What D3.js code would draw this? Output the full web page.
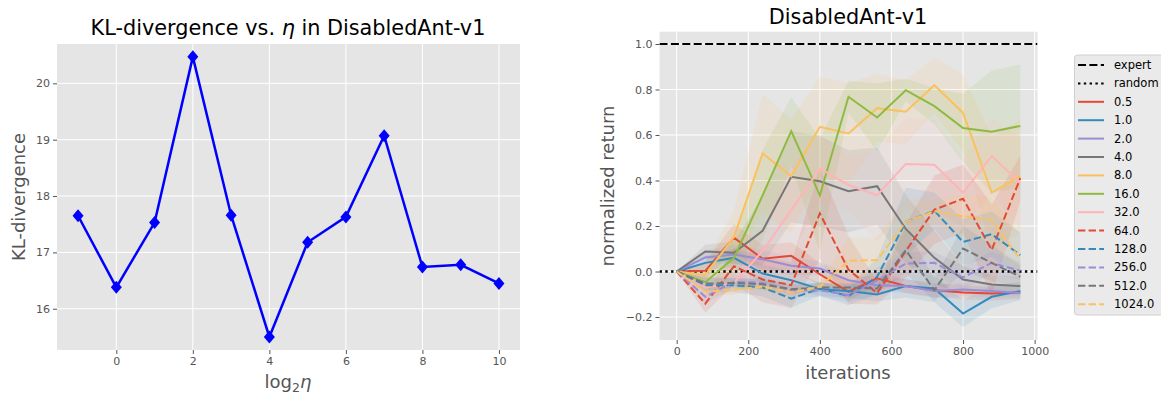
<!DOCTYPE html>
<html><head><meta charset="utf-8">
<script src="https://cdn.jsdelivr.net/npm/d3@7"></script>
<style>body{margin:0;background:#fff}svg{display:block}text{font-family:"DejaVu Sans",sans-serif}</style>
</head><body><svg id="c" width="1161" height="394"></svg>
<script>
// ---------- Left chart data ----------
const klX = [-1,0,1,2,3,4,5,6,7,8,9,10];
const klY = [17.65,16.38,17.53,20.47,17.66,15.50,17.18,17.63,19.07,16.74,16.78,16.45];
const klXTicks = [0,2,4,6,8,10];
const klYTicks = [16,17,18,19,20];

// ---------- Right chart data ----------
const iters = [0,80,160,240,320,400,480,560,640,720,800,880,960];
const etaLabels = ["0.5","1.0","2.0","4.0","8.0","16.0","32.0","64.0","128.0","256.0","512.0","1024.0"];
const mean_0_5   = [0,0.003,0.149,0.056,0.069,-0.012,-0.089,-0.03,-0.064,-0.082,-0.092,-0.097,-0.092];
const mean_1     = [0,0.038,0.060,-0.009,-0.038,-0.078,-0.086,-0.101,-0.064,-0.075,-0.185,-0.111,-0.086];
const mean_2     = [0,0.062,0.075,0.054,0.025,0.013,-0.038,-0.060,-0.064,-0.086,-0.079,-0.086,-0.094];
const mean_4     = [0,0.088,0.082,0.179,0.416,0.397,0.353,0.375,0.187,0.060,-0.035,-0.057,-0.064];
const mean_8     = [0,-0.015,0.152,0.519,0.419,0.636,0.607,0.718,0.702,0.819,0.697,0.347,0.419];
const mean_16    = [0,-0.047,0.060,0.335,0.617,0.335,0.768,0.677,0.797,0.727,0.631,0.614,0.640];
const mean_32    = [0,-0.070,-0.050,0.090,0.270,0.453,0.380,0.335,0.473,0.469,0.346,0.507,0.390];
const mean_64    = [0,-0.141,0.023,-0.035,-0.060,0.255,0.008,-0.095,0.090,0.272,0.320,0.095,0.410];
const mean_128   = [0,-0.060,-0.060,-0.070,-0.119,-0.075,-0.108,-0.023,0.218,0.267,0.130,0.164,0.072];
const mean_256   = [0,-0.111,-0.045,-0.050,-0.082,-0.082,-0.104,-0.040,0.035,0.038,-0.026,0.038,0.003];
const mean_512   = [0,-0.053,-0.050,-0.056,-0.078,-0.070,-0.070,-0.075,0.094,-0.082,0.101,0.038,-0.023];
const mean_1024  = [0,-0.089,-0.079,-0.067,-0.092,-0.067,0.047,0.050,0.218,0.265,0.243,0.226,0.054];
const std_0_5  = [0,0.04,0.06,0.06,0.06,0.05,0.04,0.03,0.03,0.03,0.03,0.03,0.03];
const std_1    = [0,0.03,0.04,0.04,0.04,0.03,0.03,0.03,0.05,0.06,0.06,0.05,0.04];
const std_2    = [0,0.03,0.04,0.04,0.04,0.03,0.03,0.03,0.03,0.03,0.03,0.03,0.02];
const std_4    = [0,0.03,0.05,0.15,0.20,0.20,0.18,0.17,0.15,0.12,0.06,0.04,0.04];
const std_8    = [0,0.05,0.12,0.26,0.25,0.22,0.22,0.15,0.14,0.12,0.17,0.25,0.25];
const std_16   = [0,0.04,0.08,0.20,0.15,0.25,0.07,0.15,0.05,0.08,0.15,0.27,0.27];
const std_32   = [0,0.04,0.05,0.12,0.20,0.15,0.12,0.20,0.20,0.20,0.15,0.17,0.20];
const std_64   = [0,0.04,0.08,0.10,0.10,0.20,0.15,0.05,0.12,0.15,0.15,0.20,0.10];
const std_128  = [0,0.03,0.03,0.04,0.04,0.03,0.04,0.08,0.15,0.08,0.10,0.10,0.10];
const std_256  = [0,0.03,0.03,0.03,0.03,0.03,0.03,0.06,0.05,0.05,0.05,0.05,0.04];
const std_512  = [0,0.03,0.02,0.02,0.02,0.02,0.02,0.02,0.10,0.05,0.10,0.08,0.05];
const std_1024 = [0,0.02,0.02,0.02,0.02,0.02,0.10,0.10,0.10,0.05,0.10,0.10,0.10];
const expertValue = 1.0, randomValue = 0.0;
const retXTicks = [0,200,400,600,800,1000];
const retYTicks = [-0.2,0,0.2,0.4,0.6,0.8,1.0];

const means = [mean_0_5,mean_1,mean_2,mean_4,mean_8,mean_16,mean_32,mean_64,mean_128,mean_256,mean_512,mean_1024];
const stds  = [std_0_5,std_1,std_2,std_4,std_8,std_16,std_32,std_64,std_128,std_256,std_512,std_1024];
const palette = ["#E24A33","#348ABD","#988ED5","#777777","#FBC15E","#8EBA42","#FFB5B8"];

const svg = d3.select("#c");
const BG = "#E5E5E5", TICKC = "#555555";

function frame(g, x, y, xt, yt, xfmt, yfmt) {
  const [x0,x1] = x.range(), [y0,y1] = y.range();
  g.append("rect").attr("x",x0).attr("y",y1).attr("width",x1-x0).attr("height",y0-y1).attr("fill",BG);
  g.selectAll(".gx").data(xt).join("line").attr("x1",d=>x(d)).attr("x2",d=>x(d)).attr("y1",y1).attr("y2",y0).attr("stroke","#fff").attr("stroke-width",1);
  g.selectAll(".gy").data(yt).join("line").attr("y1",d=>y(d)).attr("y2",d=>y(d)).attr("x1",x0).attr("x2",x1).attr("stroke","#fff").attr("stroke-width",1);
  const ax = g.append("g").attr("transform",`translate(0,${y0})`).call(d3.axisBottom(x).tickValues(xt).tickFormat(xfmt).tickSize(4).tickPadding(3));
  const ay = g.append("g").attr("transform",`translate(${x0},0)`).call(d3.axisLeft(y).tickValues(yt).tickFormat(yfmt).tickSize(4).tickPadding(3));
  [ax,ay].forEach(a=>{a.select(".domain").remove();a.selectAll("line").attr("stroke",TICKC);a.selectAll("text").attr("fill",TICKC).attr("font-size",11).attr("font-family","DejaVu Sans");});
}

// ---------- Left chart ----------
{
  const x = d3.scaleLinear().domain([-1.55,10.55]).range([57,520]);
  const y = d3.scaleLinear().domain([15.268,20.698]).range([350,44]);
  const g = svg.append("g");
  frame(g,x,y,klXTicks,klYTicks,d3.format("d"),d3.format("d"));
  const pts = klX.map((v,i)=>[v,klY[i]]);
  g.append("path").attr("d",d3.line().x(d=>x(d[0])).y(d=>y(d[1]))(pts)).attr("fill","none").attr("stroke","#0000FF").attr("stroke-width",2.5);
  g.selectAll(".m").data(pts).join("path").attr("transform",d=>`translate(${x(d[0])},${y(d[1])})`)
    .attr("d","M0,-6.5L5.5,0L0,6.5L-5.5,0Z").attr("fill","#0000FF");
  const t = g.append("text").attr("x",288).attr("y",35).attr("text-anchor","middle").attr("font-size",20.8).attr("fill","#000");
  t.append("tspan").text("KL-divergence vs. ");
  t.append("tspan").attr("font-style","italic").text("η");
  t.append("tspan").text(" in DisabledAnt-v1");
  const xl = g.append("text").attr("x",288).attr("y",388).attr("text-anchor","middle").attr("font-size",18).attr("fill",TICKC);
  xl.append("tspan").text("log");
  xl.append("tspan").attr("font-size",12.5).attr("dy",4).text("2");
  xl.append("tspan").attr("dy",-4).attr("font-style","italic").text("η");
  g.append("text").attr("transform","translate(25,197) rotate(-90)").attr("text-anchor","middle").attr("font-size",18).attr("fill",TICKC).text("KL-divergence");
}

// ---------- Right chart ----------
{
  const x = d3.scaleLinear().domain([-48,1008]).range([659.5,1037.5]);
  const y = d3.scaleLinear().domain([-0.301,1.054]).range([340,31.7]);
  const g = svg.append("g");
  frame(g,x,y,retXTicks,retYTicks,d3.format("d"),d3.format(".1f"));
  g.append("clipPath").attr("id","rc").append("rect").attr("x",659.5).attr("y",31.7).attr("width",378).attr("height",308.3);
  const body = g.append("g").attr("clip-path","url(#rc)");
  means.forEach((m,k)=>{
    const area = d3.area().x((d,i)=>x(iters[i])).y0((d,i)=>y(m[i]-stds[k][i])).y1((d,i)=>y(m[i]+stds[k][i]));
    body.append("path").attr("d",area(m)).attr("fill",palette[k%7]).attr("fill-opacity",0.12);
  });
  const [xa,xb] = x.range();
  body.append("line").attr("x1",xa).attr("x2",xb).attr("y1",y(expertValue)).attr("y2",y(expertValue)).attr("stroke","#000").attr("stroke-width",2.2).attr("stroke-dasharray","8,3.4");
  body.append("line").attr("x1",xa).attr("x2",xb).attr("y1",y(randomValue)).attr("y2",y(randomValue)).attr("stroke","#000").attr("stroke-width",2.4).attr("stroke-dasharray","2.4,3.4");
  means.forEach((m,k)=>{
    const line = d3.line().x((d,i)=>x(iters[i])).y(d=>y(d));
    body.append("path").attr("d",line(m)).attr("fill","none").attr("stroke",palette[k%7]).attr("stroke-width",2)
      .attr("stroke-dasharray",k>=7?"7.4,3.2":null);
  });
  g.append("text").attr("x",848).attr("y",24).attr("text-anchor","middle").attr("font-size",20.8).attr("fill","#000").text("DisabledAnt-v1");
  g.append("text").attr("x",848).attr("y",379).attr("text-anchor","middle").attr("font-size",18).attr("fill",TICKC).text("iterations");
  g.append("text").attr("transform","translate(614,186) rotate(-90)").attr("text-anchor","middle").attr("font-size",18).attr("fill",TICKC).text("normalized return");

  const lg = svg.append("g");
  lg.append("rect").attr("x",1074.5).attr("y",55).attr("width",100).attr("height",260).attr("rx",3).attr("fill","#EAEAEA").attr("stroke","#D0D0D0").attr("stroke-width",1);
  const items = [{l:"expert",c:"#000",d:"8,3.4"},{l:"random",c:"#000",d:"2.4,3.4"}]
    .concat(etaLabels.map((l,k)=>({l,c:palette[k%7],d:k>=7?"7.4,3.2":null})));
  items.forEach((it,i)=>{
    const yy = 65 + i*18.4;
    lg.append("line").attr("x1",1078).attr("x2",1104).attr("y1",yy).attr("y2",yy).attr("stroke",it.c).attr("stroke-width",2).attr("stroke-dasharray",it.d);
    lg.append("text").attr("x",1114).attr("y",yy+4).attr("font-size",11.5).attr("fill","#000").text(it.l);
  });
}
</script></body></html>
